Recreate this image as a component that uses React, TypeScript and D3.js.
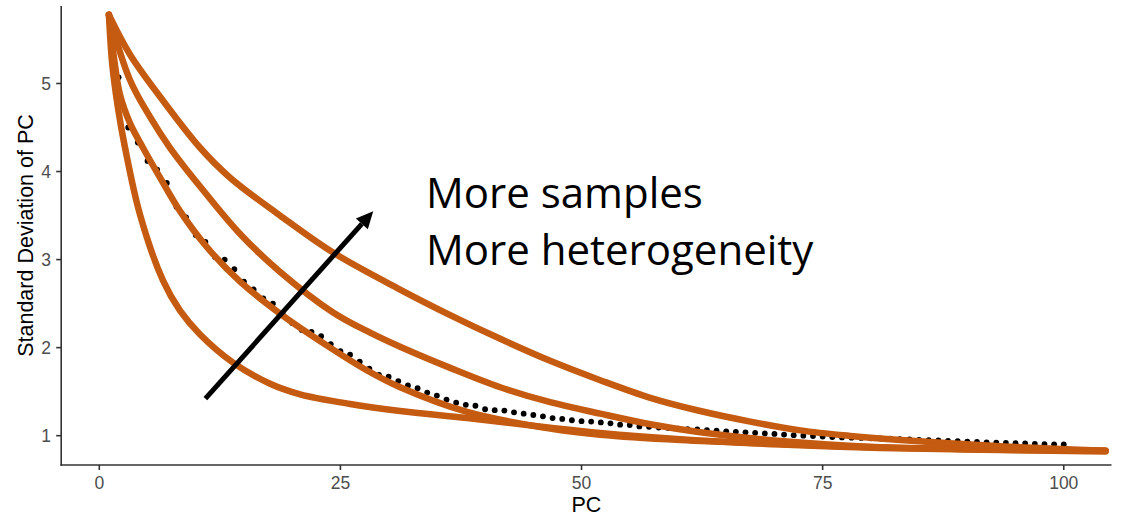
import React from "react";
import * as d3 from "d3";

const W = 1122;
const H = 518;

// Scree-plot dots: standard deviation of each PC (PC 1..100)
const pcSd: number[] = [
  5.77, 5.07, 4.5, 4.33, 4.12, 4.02, 3.87, 3.6, 3.48, 3.28,
  3.2, 3.03, 3.0, 2.89, 2.75, 2.66, 2.56, 2.5, 2.39, 2.28,
  2.2, 2.18, 2.13, 2.04, 1.96, 1.92, 1.84, 1.76, 1.69, 1.67,
  1.62, 1.57, 1.54, 1.49, 1.455, 1.41, 1.375, 1.35, 1.34, 1.3,
  1.29, 1.285, 1.265, 1.25, 1.235, 1.22, 1.2, 1.19, 1.175, 1.165,
  1.16, 1.15, 1.14, 1.125, 1.12, 1.105, 1.1, 1.093, 1.087, 1.08,
  1.075, 1.07, 1.063, 1.058, 1.05, 1.044, 1.038, 1.032, 1.026, 1.02,
  1.013, 1.006, 1.0, 0.995, 0.99, 0.985, 0.98, 0.977, 0.974, 0.971,
  0.968, 0.965, 0.961, 0.957, 0.953, 0.949, 0.945, 0.941, 0.937, 0.933,
  0.929, 0.925, 0.921, 0.917, 0.914, 0.911, 0.908, 0.905, 0.902, 0.9,
];

// Hand-drawn orange curves: [PC, SD] pairs
const curveLow: [number, number][] = [
  [1.0, 5.78], [1.35, 5.21], [1.94, 4.72], [2.67, 4.27], [4.22, 3.51], [6.61, 2.76],
  [8.37, 2.42], [10.45, 2.15], [13.87, 1.83], [17.71, 1.59], [20.82, 1.47], [26.01, 1.36],
  [31.19, 1.28], [38.14, 1.2], [46.75, 1.09], [51.94, 1.03], [60.24, 0.96], [70.62, 0.9],
  [80.99, 0.86], [104.33, 0.82],
];
const curveMidLow: [number, number][] = [
  [1.0, 5.78], [1.55, 5.27], [2.15, 4.87], [3.18, 4.55], [4.53, 4.27], [6.3, 3.93],
  [8.37, 3.55], [11.17, 3.14], [14.6, 2.75], [19.06, 2.36], [23.93, 2.0], [27.77, 1.74],
  [31.19, 1.55], [38.14, 1.27], [46.75, 1.08], [51.94, 1.01], [60.24, 0.95], [70.62, 0.906],
  [80.99, 0.866], [104.33, 0.83],
];
const curveMidHigh: [number, number][] = [
  [1.0, 5.78], [3.18, 5.04], [5.26, 4.62], [7.33, 4.27], [10.45, 3.83], [14.6, 3.29],
  [18.75, 2.86], [24.24, 2.4], [28.08, 2.17], [31.19, 2.01], [36.38, 1.77], [41.57, 1.55],
  [46.75, 1.38], [51.94, 1.25], [57.13, 1.13], [62.31, 1.04], [70.62, 0.94], [80.99, 0.87],
  [93.43, 0.84], [104.33, 0.83],
];
const curveHigh: [number, number][] = [
  [1.0, 5.78], [3.18, 5.33], [6.3, 4.85], [10.45, 4.27], [13.56, 3.93], [18.75, 3.5],
  [24.24, 3.08], [31.19, 2.66], [36.38, 2.37], [41.57, 2.1], [46.75, 1.85], [51.94, 1.63],
  [57.13, 1.43], [62.31, 1.28], [67.5, 1.16], [72.69, 1.06], [77.87, 0.997], [83.06, 0.95],
  [93.43, 0.88], [104.33, 0.83],
];
const curves = [curveLow, curveMidLow, curveMidHigh, curveHigh];

// Arrow annotation (data coordinates): tail, head
const arrowPts: [number, number][] = [
  [11.0, 1.42],
  [28.4, 3.55],
];

const xTicks = [0, 25, 50, 75, 100];
const yTicks = [1, 2, 3, 4, 5];
const annotationLines = ["More samples", "More heterogeneity"];

export default function App() {
  const x = d3.scaleLinear().domain([-3.95, 104.95]).range([61.2, 1111.5]);
  const y = d3.scaleLinear().domain([0.667, 5.88]).range([465, 6]);

  const line = d3
    .line<[number, number]>()
    .x((d) => x(d[0]))
    .y((d) => y(d[1]))
    .curve(d3.curveCatmullRom.alpha(0.5));

  const orange = "#C55A11";
  const axisColor = "#333333";
  const tickColor = "#4D4D4D";
  const font = "'Liberation Sans', Arial, Helvetica, sans-serif";

  const [t0, t1] = arrowPts;
  const ax0 = x(t0[0]);
  const ay0 = y(t0[1]);
  const ax1 = x(t1[0]);
  const ay1 = y(t1[1]);
  const ang = Math.atan2(ay1 - ay0, ax1 - ax0);
  const headLen = 17;
  const headW = 8;
  const bx = ax1 - headLen * Math.cos(ang);
  const by = ay1 - headLen * Math.sin(ang);
  const px = -Math.sin(ang);
  const py = Math.cos(ang);
  const head = `M${ax1},${ay1} L${bx + headW * px},${by + headW * py} L${bx - headW * px},${by - headW * py} Z`;

  const x0 = x.range()[0];
  const x1 = x.range()[1];
  const yb = y.range()[0];
  const yt = y.range()[1];

  return (
    <svg
      width={W}
      height={H}
      style={{ position: "absolute", left: 0, top: 0, background: "#fff" }}
    >
      <rect x={0} y={0} width={W} height={H} fill="#fff" />
      {/* dots */}
      <g>
        {pcSd.map((v, i) => (
          <circle key={i} cx={x(i + 1)} cy={y(v)} r={2.9} fill="#000" />
        ))}
      </g>
      {/* axes */}
      <g stroke={axisColor} strokeWidth={1.6} fill="none">
        <line x1={x0} y1={yt} x2={x0} y2={yb + 0.8} />
        <line x1={x0 - 0.8} y1={yb} x2={x1} y2={yb} />
        {xTicks.map((t) => (
          <line key={"xt" + t} x1={x(t)} x2={x(t)} y1={yb} y2={yb + 5} />
        ))}
        {yTicks.map((t) => (
          <line key={"yt" + t} x1={x0 - 5} x2={x0} y1={y(t)} y2={y(t)} />
        ))}
      </g>
      <g fontFamily={font} fontSize={17.5} fill={tickColor}>
        {xTicks.map((t) => (
          <text key={"xl" + t} x={x(t)} y={489} textAnchor="middle">
            {t}
          </text>
        ))}
        {yTicks.map((t) => (
          <text key={"yl" + t} x={51} y={y(t)} dy="0.36em" textAnchor="end">
            {t}
          </text>
        ))}
      </g>
      <g fontFamily={font} fontSize={21.5} fill="#000">
        <text x={(x0 + x1) / 2} y={512} textAnchor="middle">
          PC
        </text>
        <text
          transform={`translate(33,${(yt + yb) / 2}) rotate(-90)`}
          textAnchor="middle"
        >
          Standard Deviation of PC
        </text>
      </g>
      {/* orange curves */}
      <g fill="none" stroke={orange} strokeWidth={6.5} strokeLinejoin="round" strokeLinecap="round">
        {curves.map((c, i) => (
          <path key={i} d={line(c) || ""} />
        ))}
      </g>
      {/* arrow */}
      <g>
        <line x1={ax0} y1={ay0} x2={bx} y2={by} stroke="#000" strokeWidth={5} />
        <path d={head} fill="#000" />
      </g>
      {/* annotation */}
      <g fontFamily="'Open Sans', sans-serif" fontSize={42} fill="#000">
        {annotationLines.map((s, i) => (
          <text key={s} x={426} y={208 + i * 57}>
            {s}
          </text>
        ))}
      </g>
    </svg>
  );
}
